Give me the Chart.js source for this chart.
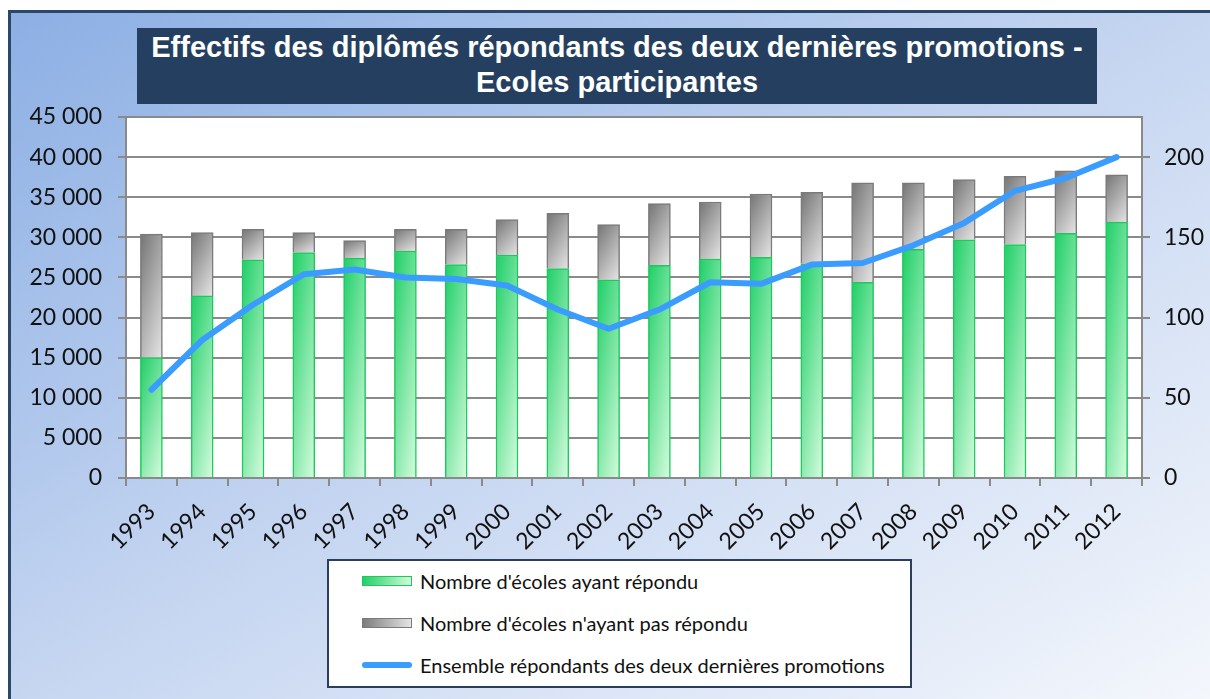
<!DOCTYPE html>
<html>
<head>
<meta charset="utf-8">
<script src="https://cdn.jsdelivr.net/npm/chart.js@4.4.1/dist/chart.umd.min.js"></script>
<style>
  html, body { margin: 0; padding: 0; background: #fff; }
  #wrap { position: relative; width: 1210px; height: 699px; overflow: hidden; }
  #card {
    position: absolute; left: 8px; top: 10px; right: -4px; bottom: -4px;
    border-top: 3px solid #2b4869; border-left: 3px solid #2b4869;
    background: linear-gradient(to bottom right, #8cafe4 0%, #c6d6f1 50%, #f4f7fc 100%);
  }
  #title {
    position: absolute; left: 137px; top: 28px; width: 960px; height: 76px;
    background: #253f60; color: #fff; text-align: center;
    font: bold 29px "Liberation Sans", Arial, sans-serif; line-height: 35px; padding-top: 2px; box-sizing: border-box;
    white-space: nowrap;
  }
  #chart { position: absolute; left: 0; top: 0; }
  #legend {
    position: absolute; left: 327px; top: 559px; width: 585px; height: 129px;
    background: #fff; border: 2px solid #2a3f5c; box-sizing: border-box;
    font: 20px Lato, "Noto Sans", sans-serif; color: #111;
  }
  .item { position: absolute; left: 33px; height: 24px; display: flex; align-items: center; }
  .sw { width: 50px; height: 10px; margin-right: 8px; box-sizing: border-box; }
  .sw.green { background: linear-gradient(to right, #22cf68, #d2fbda); border: 1.5px solid #1ec85e; }
  .sw.gray { background: linear-gradient(to right, #7c7c7c, #e4e4e4); border: 1.5px solid #7a7a7a; }
  .sw.line { height: 6px; border-radius: 3px; background: #3a9cff; }
</style>
</head>
<body>
<div id="wrap">
  <div id="card"></div>
  <canvas id="chart" width="1210" height="699"></canvas>
  <div id="title">Effectifs des diplômés répondants des deux dernières promotions -<br>Ecoles participantes</div>
  <div id="legend">
    <div class="item" style="top:8px"><div class="sw green"></div>Nombre d'écoles ayant répondu</div>
    <div class="item" style="top:50px"><div class="sw gray"></div>Nombre d'écoles n'ayant pas répondu</div>
    <div class="item" style="top:92px"><div class="sw line"></div>Ensemble répondants des deux dernières promotions</div>
  </div>
</div>
<script>
// --- DATA ---
const years = ["1993", "1994", "1995", "1996", "1997", "1998", "1999", "2000", "2001", "2002",
  "2003", "2004", "2005", "2006", "2007", "2008", "2009", "2010", "2011", "2012"];
const answered = [15000, 22700, 27200, 28100, 27400, 28300, 26600, 27800, 26100, 24700,
  26500, 27300, 27500, 26700, 24400, 28500, 29700, 29100, 30500, 31900];
const notAnswered = [15400, 7900, 3800, 2500, 2200, 2700, 4400, 4400, 6900, 6900,
  7700, 7100, 7900, 8900, 12400, 8300, 7500, 8500, 7800, 5900];
const respondents = [55, 86, 108, 127, 130, 125, 124, 120, 105, 93,
  105, 122, 121, 133, 134, 145, 159, 179, 187, 200];
const leftTicks = [0, 5000, 10000, 15000, 20000, 25000, 30000, 35000, 40000, 45000];
const rightTicks = [0, 50, 100, 150, 200];

const BAR_W = 22;

// Gradient for one bar segment: dark at top-left, light at bottom-right
function segFill(c, base, top, dark, light) {
  const chart = c.chart;
  if (!chart.chartArea || !chart.scales.x) return dark;
  const x = chart.scales.x.getPixelForValue(c.dataIndex);
  const yTop = chart.scales.y.getPixelForValue(top);
  const yBot = chart.scales.y.getPixelForValue(base);
  const w = BAR_W, h = Math.max(yBot - yTop, 1);
  const s = 1 / (0.16 / (w * w) + 0.36 / (h * h));
  const ax = 0.4 * s / w, ay = 0.6 * s / h;
  const g = chart.ctx.createLinearGradient(x - w / 2, yTop, x - w / 2 + ax, yTop + ay);
  g.addColorStop(0, dark);
  g.addColorStop(1, light);
  return g;
}

function spaced(v) {
  return String(v).replace(/\B(?=(\d{3})+(?!\d))/g, " ");
}

const plotBg = {
  id: "plotBg",
  beforeDraw(chart) {
    const a = chart.chartArea, ctx = chart.ctx;
    ctx.save();
    ctx.fillStyle = "#ffffff";
    ctx.fillRect(a.left, a.top, a.right - a.left, a.bottom - a.top);
    ctx.restore();
  }
};

const gridColor = "#8a8a8a";
const tickFont = { family: "Lato, 'Noto Sans', sans-serif", size: 23 };

new Chart(document.getElementById("chart"), {
  data: {
    labels: years,
    datasets: [
      {
        type: "line",
        label: "Ensemble répondants des deux dernières promotions",
        data: respondents,
        yAxisID: "y2",
        borderColor: "#3a9cff",
        borderWidth: 6,
        pointRadius: 0,
        tension: 0,
        borderCapStyle: "round",
        borderJoinStyle: "round",
        order: 0
      },
      {
        type: "bar",
        label: "Nombre d'écoles ayant répondu",
        data: answered,
        yAxisID: "y",
        stack: "s",
        backgroundColor: c => segFill(c, 0, answered[c.dataIndex], "#1fce67", "#d6fcde"),
        borderColor: "#1ec85e",
        borderWidth: 1.5,
        barThickness: BAR_W,
        order: 1
      },
      {
        type: "bar",
        label: "Nombre d'écoles n'ayant pas répondu",
        data: notAnswered,
        yAxisID: "y",
        stack: "s",
        backgroundColor: c => segFill(c, answered[c.dataIndex],
          answered[c.dataIndex] + notAnswered[c.dataIndex], "#747474", "#e6e6e6"),
        borderColor: "#7a7a7a",
        borderWidth: 1.5,
        barThickness: BAR_W,
        order: 1
      }
    ]
  },
  options: {
    responsive: false,
    animation: false,
    layout: { padding: { top: 117, left: 0, right: 0, bottom: 0 } },
    plugins: { legend: { display: false }, tooltip: { enabled: false } },
    scales: {
      x: {
        stacked: true,
        offset: true,
        grid: { offset: true, drawOnChartArea: false, color: gridColor, lineWidth: 2, tickLength: 8 },
        border: { color: gridColor, width: 2 },
        ticks: { color: "#111", font: tickFont, minRotation: 45, maxRotation: 45, padding: 12 },
        afterFit: s => { s.height = 221; }
      },
      y: {
        stacked: true,
        position: "left",
        min: 0,
        max: 45000,
        afterBuildTicks: s => { s.ticks = leftTicks.map(v => ({ value: v })); },
        grid: { color: gridColor, lineWidth: 2, tickLength: 8 },
        border: { color: gridColor, width: 2 },
        ticks: { color: "#111", font: tickFont, padding: 16, callback: v => spaced(v) },
        afterFit: s => { s.width = 126; }
      },
      y2: {
        position: "right",
        min: 0,
        max: 225,
        afterBuildTicks: s => { s.ticks = rightTicks.map(v => ({ value: v })); },
        grid: { drawOnChartArea: false, color: gridColor, lineWidth: 2, tickLength: 8 },
        border: { color: gridColor, width: 2 },
        ticks: { color: "#111", font: tickFont, padding: 14 },
        afterFit: s => { s.width = 68; }
      }
    }
  },
  plugins: [plotBg]
});
</script>
</body>
</html>
